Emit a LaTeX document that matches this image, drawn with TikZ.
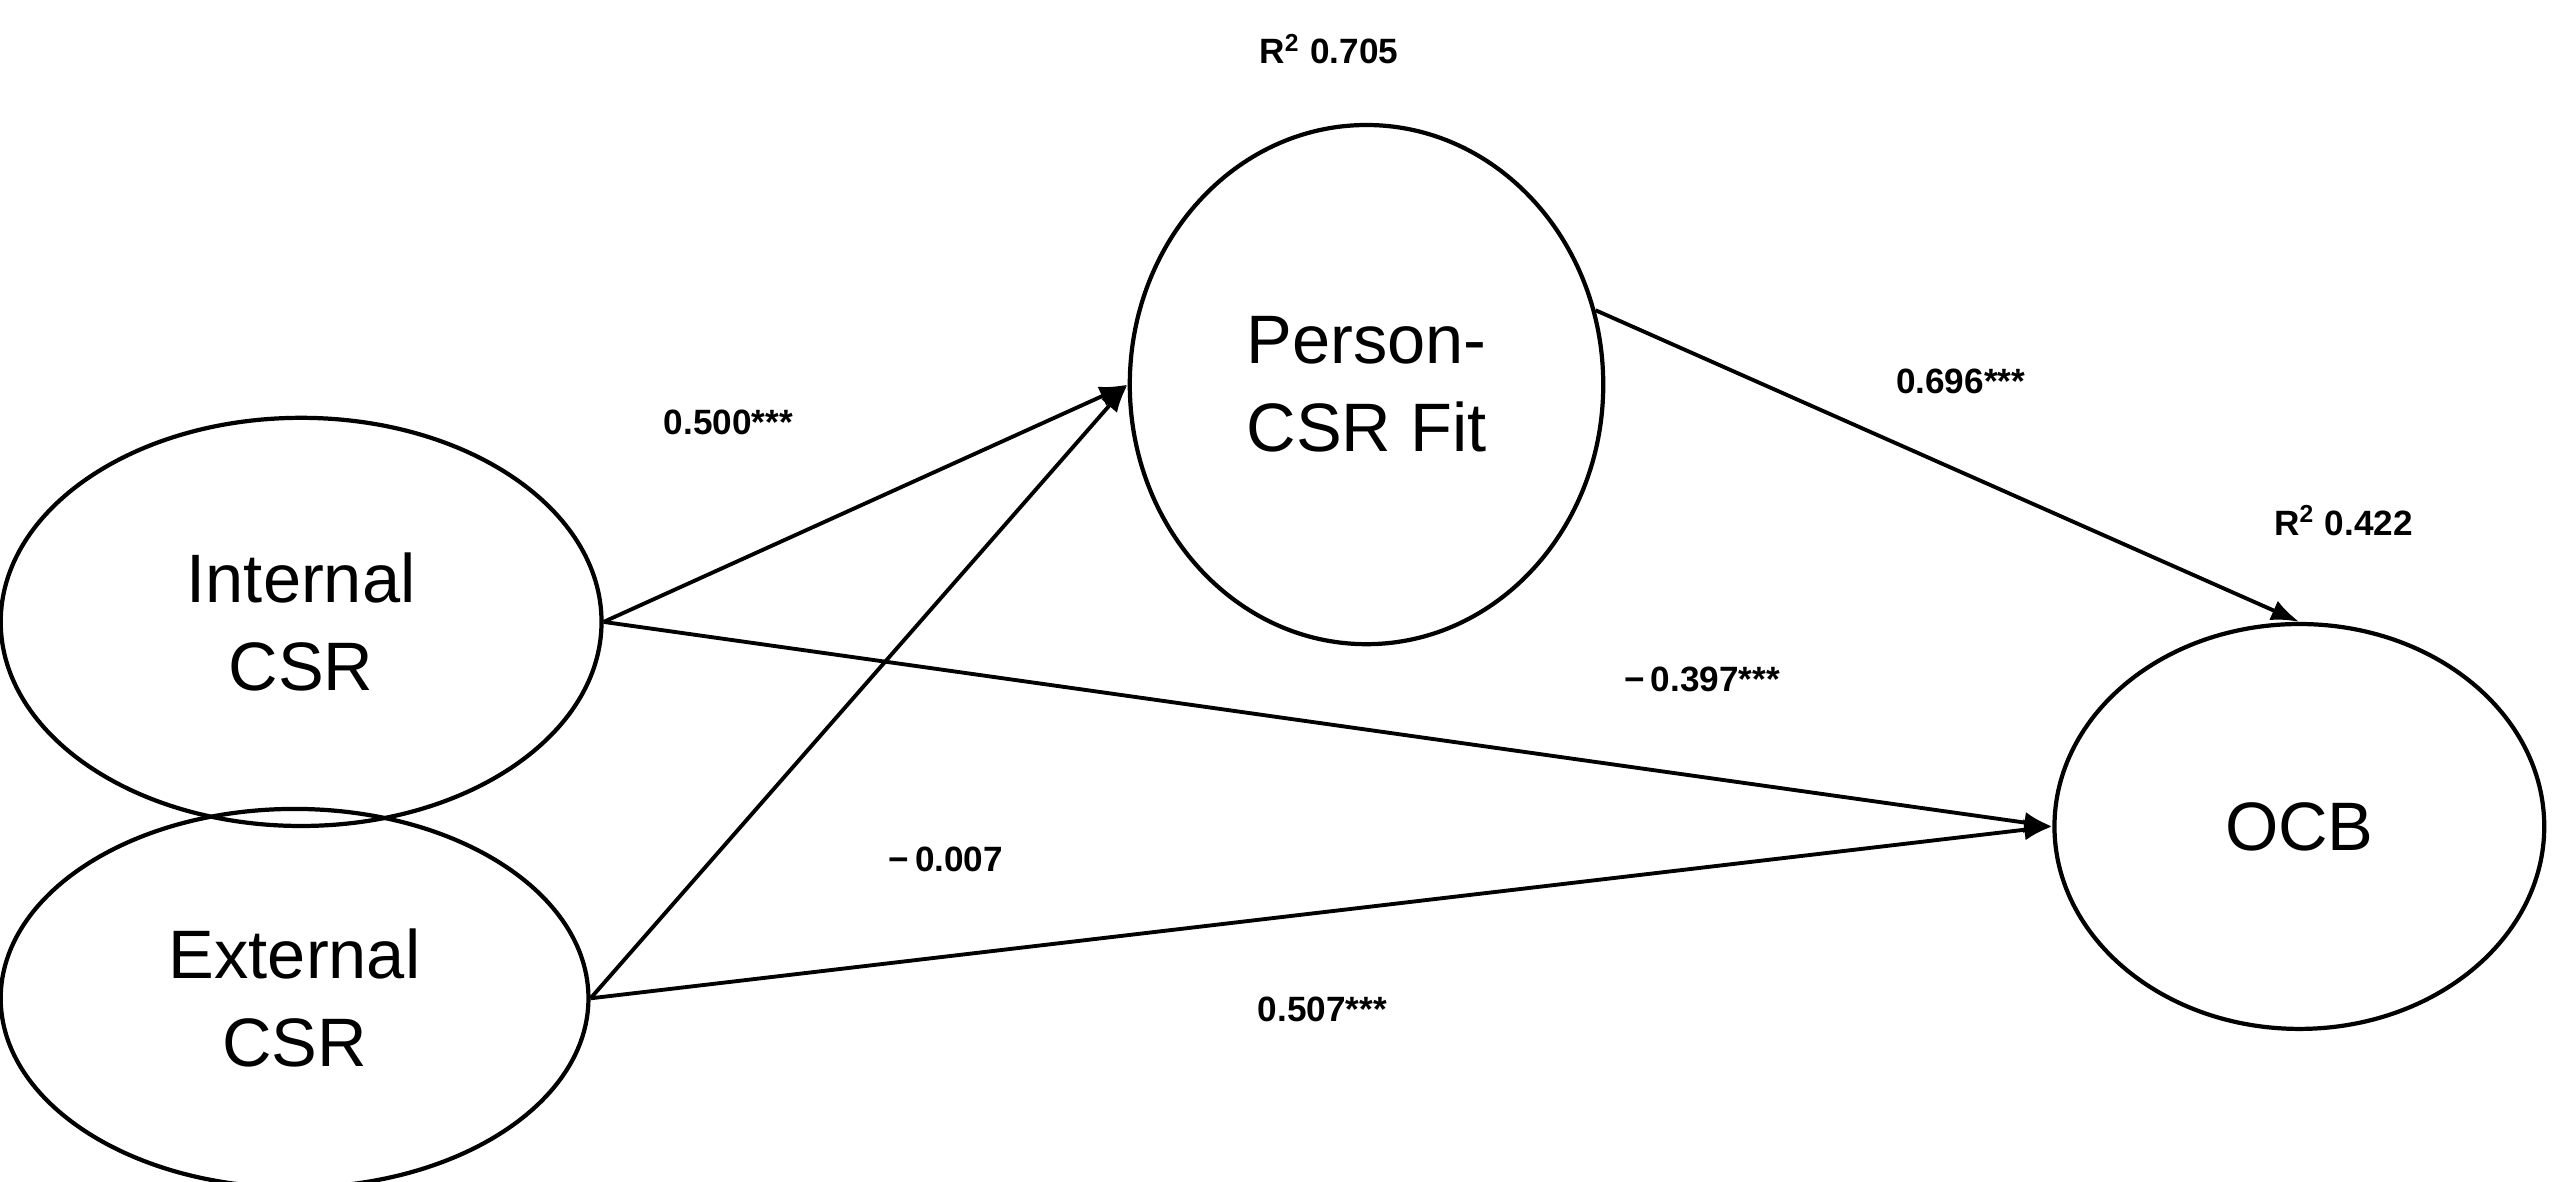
\documentclass[tikz,border=0pt]{standalone}
\usepackage{fontspec}
\setmainfont{Liberation Sans}
\usetikzlibrary{shapes.geometric,arrows.meta}
\begin{document}
\begin{tikzpicture}[x=0.016365cm,y=-0.016365cm,
  lat/.style={ellipse,draw,line width=1.2pt,inner sep=0pt,align=center,font=\fontsize{19.5}{25}\selectfont},
  path/.style={-{Latex[length=8pt,width=6pt]},line width=1.1pt},
  lab/.style={font=\bfseries\fontsize{10}{12}\selectfont}]
\useasboundingbox (0,0) rectangle (1560,722);
\node[lat,minimum width=368*0.4643pt,minimum height=250*0.4643pt] (int) at (184,380) {Internal\\CSR};
\node[lat,minimum width=360*0.4643pt,minimum height=232*0.4643pt] (ext) at (180,610) {External\\CSR};
\node[lat,minimum width=290*0.4643pt,minimum height=318*0.4643pt] (pcf) at (835,235) {Person-\\CSR Fit};
\node[lat,minimum width=300*0.4643pt,minimum height=248*0.4643pt] (ocb) at (1405,505) {OCB};
\draw[path] (int.east) -- (pcf.west);
\draw[path] (ext.east) -- (pcf.west);
\draw[path] (int.east) -- (ocb.west);
\draw[path] (ext.east) -- (ocb.west);
\draw[path] (pcf.18) -- (ocb.north);
\node[lab] (l1) at (445,258) {0.500***};
\node[lab] (l2) at (1040,415) {\textminus\,0.397***};
\node[lab] (l3) at (578,525) {\textminus\,0.007};
\node[lab] (l4) at (808,617) {0.507***};
\node[lab] (l5) at (1198,233) {0.696***};
\node[lab] (r1) at (812,30) {R\textsuperscript{2} 0.705};
\node[lab] (r2) at (1432,318) {R\textsuperscript{2} 0.422};
\end{tikzpicture}
\end{document}
